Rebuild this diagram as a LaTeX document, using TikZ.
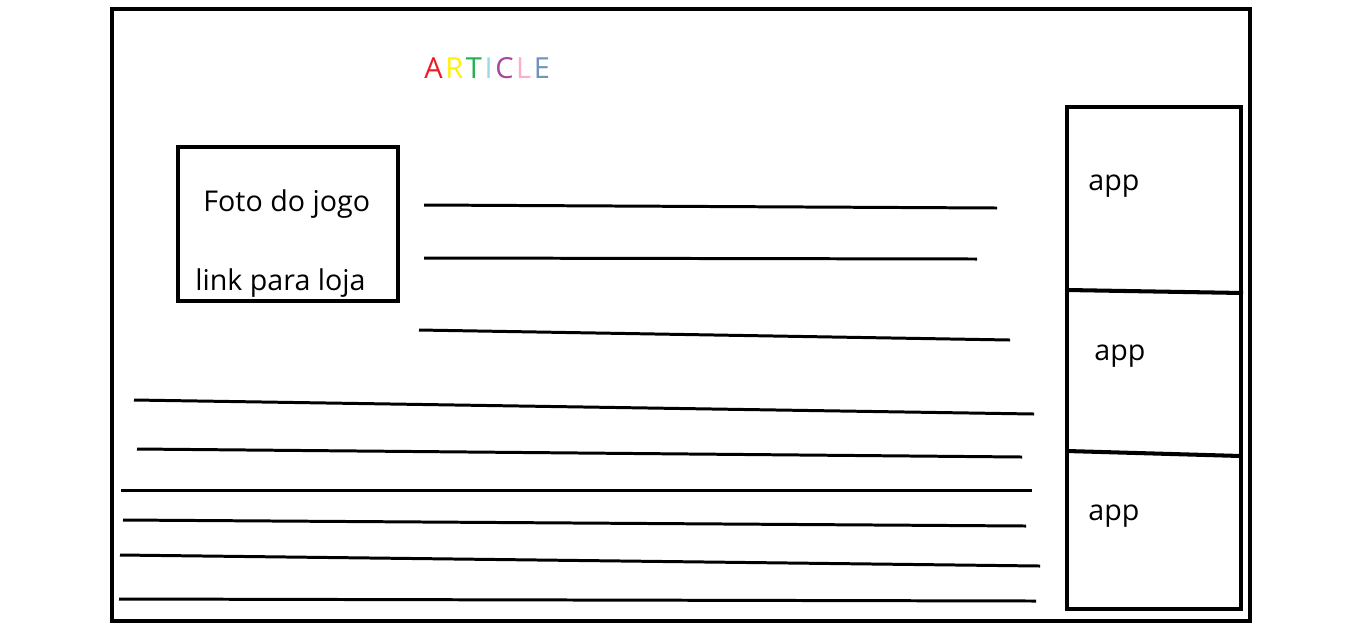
\documentclass[tikz,border=0pt]{standalone}
\usepackage{fontspec}
\setmainfont{Open Sans}
\usepackage{xcolor}
\usetikzlibrary{positioning}
\definecolor{artred}{HTML}{ED1C24}
\definecolor{artyellow}{HTML}{FFF200}
\definecolor{artgreen}{HTML}{22B14C}
\definecolor{artcyan}{HTML}{99D9EA}
\definecolor{artpurple}{HTML}{A349A4}
\definecolor{artpink}{HTML}{FFAEC9}
\definecolor{artblue}{HTML}{7092BE}
\newcommand{\gap}{\kern1.5pt}

\begin{document}
\begin{tikzpicture}[
  x=0.02cm, y=-0.02cm,
  frame/.style={draw=black,line width=2.3pt},
  textline/.style={draw=black,line width=1.7pt},
  label/.style={font=\fontsize{16.3}{18}\selectfont,anchor=base west,inner sep=0pt},
  heading/.style={label,font=\fontsize{16.5}{18}\selectfont}
]
\useasboundingbox (0,0) rectangle (1354,623);
% page
\draw[frame] (112,9) rectangle (1250,621);
% title
\node[heading] (title) at (424,78) {\textcolor{artred}{A}\gap\textcolor{artyellow}{R}\gap\textcolor{artgreen}{T}\gap\textcolor{artcyan}{I}\gap\textcolor{artpurple}{C}\gap\textcolor{artpink}{L}\gap\textcolor{artblue}{E}};
% photo box
\draw[frame] (178,147) rectangle (398,301);
\node[label] (foto) at (203,211) {Foto do jogo};
\node[label] (link) at (195,290) {link para loja};
% app column
\draw[frame] (1067,107) rectangle (1241,609);
\draw[frame] (1067,290) -- (1243,293);
\draw[frame] (1067,451) -- (1241,456);
\node[label] (appa) at (1088,190) {app};
\node[label] (appb) at (1094,360) {app};
\node[label] (appc) at (1088,520) {app};
% text lines
\foreach \xa/\ya/\xb/\yb in {424/205/997/208, 424/258/977/259, 419/330/1010/340,
    134/400/1034/414, 137/449/1022/457, 121/490/1032/490,
    123/520/1026/526, 120/555/1040/566, 119/599/1036/601}
  \draw[textline] (\xa,\ya) -- (\xb,\yb);
\end{tikzpicture}
\end{document}
